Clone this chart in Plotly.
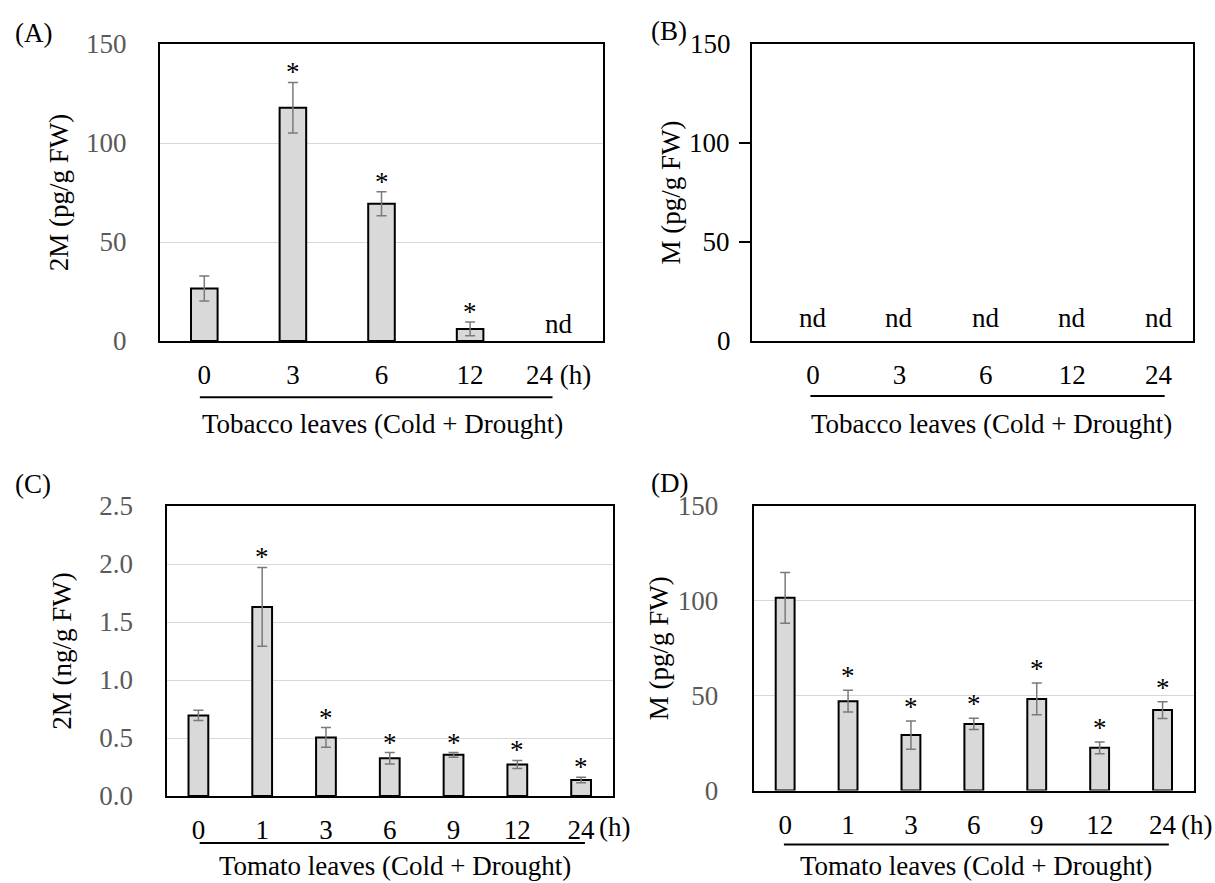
import plotly.graph_objects as go

W, H = 1215, 883
FONT = "Liberation Serif"
FS = 27
TICKGRAY = "#595959"
GRID = "#d9d9d9"
BARFILL = "#d9d9d9"
ERRCOL = "#7a7a7a"

# ---------------- data ----------------
tob_cats = ["0", "3", "6", "12", "24"]
tob_ticktext_A = ["0", "3", "6", "12", "24 (h)"]
tob_ticktext_B = ["0", "3", "6", "12", "24"]
A_vals = [26.5, 117.8, 69.3, 6.1, None]
A_err = [6.3, 12.8, 6.1, 3.5, 0]
A_sig = [False, True, True, True, False]
A_nd = [False, False, False, False, True]
B_nd = [True, True, True, True, True]

tom_cats = ["0", "1", "3", "6", "9", "12", "24"]
tom_ticktext = ["0", "1", "3", "6", "9", "12", "24"]
C_vals = [0.695, 1.63, 0.505, 0.325, 0.355, 0.272, 0.138]
C_err = [0.045, 0.34, 0.085, 0.05, 0.02, 0.035, 0.023]
C_sig = [False, True, True, True, True, True, True]
D_vals = [101.6, 47.1, 29.2, 35.1, 48.3, 22.5, 42.4]
D_err = [13.4, 5.7, 7.5, 3.0, 8.4, 3.1, 4.4]
D_sig = [False, True, True, True, True, True, True]

A_yticks = [0, 50, 100, 150]
C_yticks = [0.0, 0.5, 1.0, 1.5, 2.0, 2.5]
C_yticktext = ["0.0", "0.5", "1.0", "1.5", "2.0", "2.5"]

tob_title = "Tobacco leaves (Cold + Drought)"
tom_title = "Tomato leaves (Cold + Drought)"

# ---------------- layout helpers ----------------
def dx(a, b):
    return [a / W, b / W]

def dy(top, bottom):
    return [1 - bottom / H, 1 - top / H]

fig = go.Figure()

def add_bars(xa, ya, cats, vals, errs, width):
    fig.add_trace(go.Bar(
        x=cats, y=vals, xaxis=xa, yaxis=ya, width=width,
        marker=dict(color=BARFILL, line=dict(color="black", width=2)),
        error_y=dict(type="data", array=errs, visible=True, color=ERRCOL,
                     thickness=1.5, width=5),
        showlegend=False, hoverinfo="skip"))

add_bars("x", "y", tob_cats, A_vals, A_err, 0.30)
add_bars("x3", "y3", tom_cats, C_vals, C_err, 0.31)
add_bars("x4", "y4", tom_cats, D_vals, D_err, 0.30)
# invisible traces to establish categories / axes on panel B
fig.add_trace(go.Scatter(x=tob_cats, y=[None] * 5, xaxis="x2", yaxis="y2",
                         mode="markers", showlegend=False, hoverinfo="skip"))
fig.add_trace(go.Scatter(x=tob_cats, y=[None] * 5, xaxis="x2", yaxis="y5",
                         mode="markers", showlegend=False, hoverinfo="skip"))

annots = []
shapes = []

def star_annots(xref, yref, vals, errs, sig, yshift):
    for i, (v, e, s) in enumerate(zip(vals, errs, sig)):
        if s:
            annots.append(dict(x=i, y=v + e, xref=xref, yref=yref, text="*",
                               showarrow=False, yanchor="bottom", yshift=yshift,
                               font=dict(family=FONT, size=FS, color="black")))

def nd_annots(xref, yref, nd, yshift):
    for i, n in enumerate(nd):
        if n:
            annots.append(dict(x=i, y=0, xref=xref, yref=yref, text="nd",
                               showarrow=False, yanchor="bottom", yshift=yshift,
                               font=dict(family=FONT, size=FS, color="black")))

star_annots("x", "y", A_vals, A_err, A_sig, -7)
star_annots("x3", "y3", C_vals, C_err, C_sig, -7)
star_annots("x4", "y4", D_vals, D_err, D_sig, -3)
nd_annots("x", "y", A_nd, 0)
nd_annots("x2", "y2", B_nd, 6)

def under(xref, yref, x0, x1, yv, title, tx, ty):
    shapes.append(dict(type="line", xref=xref, yref=yref + " domain",
                       x0=x0, x1=x1, y0=yv, y1=yv,
                       line=dict(color="black", width=2)))
    annots.append(dict(x=tx, y=ty, xref=xref + " domain",
                       yref=yref + " domain", text=title, showarrow=False,
                       xanchor="center", yanchor="middle",
                       font=dict(family=FONT, size=FS, color="black")))

under("x", "y", -0.05, 3.93, -0.189, tob_title, 0.503, -0.28)
under("x2", "y2", -0.03, 4.07, -0.185, tob_title, 0.542, -0.28)
under("x3", "y3", 0.02, 6.06, -0.162, tom_title, 0.512, -0.241)
under("x4", "y4", -0.02, 6.10, -0.19, tom_title, 0.504, -0.265)

# "(h)" suffix for tomato panels
for xa, ya, yd in [("x3", "y3", -0.107), ("x4", "y4", -0.121)]:
    annots.append(dict(x=len(tom_cats) - 1, y=yd, xref=xa, yref=ya + " domain", text="(h)",
                       showarrow=False, xanchor="left", yanchor="middle", xshift=16,
                       font=dict(family=FONT, size=FS, color="black")))

# panel letters
for lab, px, py in [("(A)", 13, 33), ("(B)", 649, 31), ("(C)", 13, 484), ("(D)", 649, 483)]:
    annots.append(dict(x=px / W, y=1 - py / H, xref="paper", yref="paper", text=lab,
                       showarrow=False, xanchor="left", yanchor="middle",
                       font=dict(family=FONT, size=FS, color="black")))

def xaxis(domain, anchor, cats, ticktext, rng):
    return dict(domain=domain, anchor=anchor, type="category", range=rng,
                tickmode="array", tickvals=cats, ticktext=ticktext,
                showline=True, mirror=True, linecolor="black", linewidth=2,
                showgrid=False, zeroline=False, ticks="", ticklabelstandoff=9,
                tickfont=dict(family=FONT, size=FS, color="black"), automargin=False)

def yaxis(domain, anchor, rng, tickvals, ticktext, title, grid, tcol, standoff,
          tstand, ticks=""):
    return dict(domain=domain, anchor=anchor, range=rng, tickmode="array",
                tickvals=tickvals, ticktext=ticktext,
                showline=True, mirror=True, linecolor="black", linewidth=2,
                showgrid=grid, gridcolor=GRID, gridwidth=1, zeroline=False,
                ticks=ticks, ticklen=11, tickwidth=2, tickcolor="black",
                ticklabelstandoff=standoff,
                tickfont=dict(family=FONT, size=FS, color=tcol), automargin=False,
                title=dict(text=title, font=dict(family=FONT, size=FS, color="black"),
                           standoff=tstand))

fig.update_layout(
    width=W, height=H, margin=dict(l=0, r=0, t=0, b=0),
    paper_bgcolor="white", plot_bgcolor="white", showlegend=False,
    font=dict(family=FONT, size=FS, color="black"),
    xaxis=xaxis(dx(160, 603), "y", tob_cats, tob_ticktext_A, [-0.5, 4.5]),
    xaxis2=xaxis(dx(752, 1193), "y2", tob_cats, tob_ticktext_B, [-0.706, 4.398]),
    xaxis3=xaxis(dx(166.5, 613), "y3", tom_cats, tom_ticktext, [-0.5, 6.5]),
    xaxis4=xaxis(dx(753.7, 1194), "y4", tom_cats, tom_ticktext, [-0.5, 6.5]),
    yaxis=yaxis(dy(44, 341), "x", [0, 150], A_yticks, [str(v) for v in A_yticks],
                "2M (pg/g FW)", True, TICKGRAY, 26, 10),
    yaxis2=yaxis(dy(44, 341), "x2", [0, 150], [50, 100], ["50", "100"],
                 "M (pg/g FW)", False, "black", 4, 1, ticks="outside"),
    yaxis5=dict(domain=dy(44, 341), anchor="x2", overlaying="y2", range=[0, 150],
                tickmode="array", tickvals=[0, 150], ticktext=["0", "150"],
                showline=False, showgrid=False, zeroline=False, ticks="outside",
                ticklen=11, tickcolor="rgba(0,0,0,0)", ticklabelstandoff=4,
                tickfont=dict(family=FONT, size=FS, color="black"), automargin=False),
    yaxis3=yaxis(dy(506, 796), "x3", [0, 2.5], C_yticks, C_yticktext,
                 "2M (ng/g FW)", True, TICKGRAY, 26, 20),
    yaxis4=yaxis(dy(506, 790.5), "x4", [0, 150], A_yticks, [str(v) for v in A_yticks],
                 "M (pg/g FW)", True, TICKGRAY, 28, 1),
    annotations=annots, shapes=shapes,
)

fig.write_html("out.html", post_script="document.body.style.margin='0';",
               config={"displayModeBar": False})
